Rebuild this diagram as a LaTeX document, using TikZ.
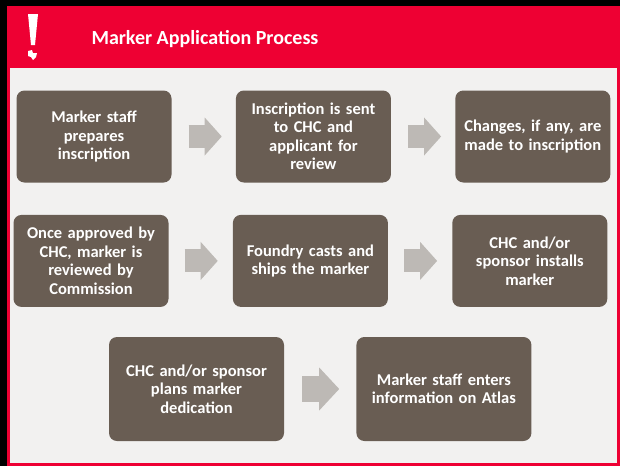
\documentclass[tikz,border=0pt]{standalone}
\usepackage{fontspec}
\setmainfont{Carlito}
\usetikzlibrary{positioning,arrows.meta}

\definecolor{headred}{HTML}{EE0033}
\definecolor{panelgray}{HTML}{F2F1F0}
\definecolor{boxbrown}{HTML}{695D53}
\definecolor{arrowgray}{HTML}{BDB9B5}

\begin{document}
\begin{tikzpicture}[x=1pt, y=-1pt, node distance=64pt,
    stepbox/.style={rectangle, rounded corners=8pt, fill=boxbrown, text=white,
        minimum width=155pt, minimum height=92pt, text width=150pt, align=center,
        inner sep=0pt, font=\bfseries\fontsize{16.5}{18.5}\selectfont},
    bigbox/.style={stepbox, minimum width=175pt, minimum height=104pt, text width=170pt},
    blockarrow/.style={draw=arrowgray, line width=23pt,
        -{Triangle[length=17pt, width=38pt, line width=0pt]}}]
    \useasboundingbox (0,0) rectangle (620,466);

    % Slide background
    \fill[black] (0,0) rectangle (620,466);
    \fill[headred] (7,6) rectangle (620,466);
    \fill[panelgray] (10,68) rectangle (617,463);
    \fill[white] (28,14) -- (38,14) -- (35,45) -- (31,45) -- cycle;
    \fill[white] (28,51) -- (32,50) -- (33,53) -- (37,53) -- (36,57) -- (33,60) -- (31,57) -- (28,56) -- cycle;
    \node (title) [anchor=west, text=white, font=\bfseries\fontsize{20}{24}\selectfont] at (88,39.5) {Marker Application Process};

    % Nodes
    \node (prepare) [stepbox] at (94,136.5) {Marker staff\\prepares\\inscription};
    \node (sent) [stepbox, right=of prepare] {Inscription is sent\\to CHC and\\applicant for\\review};
    \node (changes) [stepbox, right=of sent] {Changes, if any, are\\made to inscription};
    \node (approved) [stepbox, below=32pt of prepare, xshift=-3pt] {Once approved by\\CHC, marker is\\reviewed by\\Commission};
    \node (foundry) [stepbox, right=of approved] {Foundry casts and\\ships the marker};
    \node (installs) [stepbox, right=of foundry] {CHC and/or\\sponsor installs\\marker};
    \node (dedication) [bigbox] at (196.5,389) {CHC and/or sponsor\\plans marker\\dedication};
    \node (atlas) [bigbox, right=72pt of dedication] {Marker staff enters\\information on Atlas};

    % Arrows
    \draw[blockarrow, shorten <=17pt, shorten >=14pt] (prepare) -- (sent);
    \draw[blockarrow, shorten <=17pt, shorten >=14pt] (sent) -- (changes);
    \draw[blockarrow, shorten <=16pt, shorten >=15pt] (approved) -- (foundry);
    \draw[blockarrow, shorten <=16pt, shorten >=15pt] (foundry) -- (installs);
    \draw[blockarrow, line width=26pt, -{Triangle[length=20pt, width=43pt, line width=0pt]},
        shorten <=18pt, shorten >=17pt] (dedication) -- (atlas);
\end{tikzpicture}
\end{document}
